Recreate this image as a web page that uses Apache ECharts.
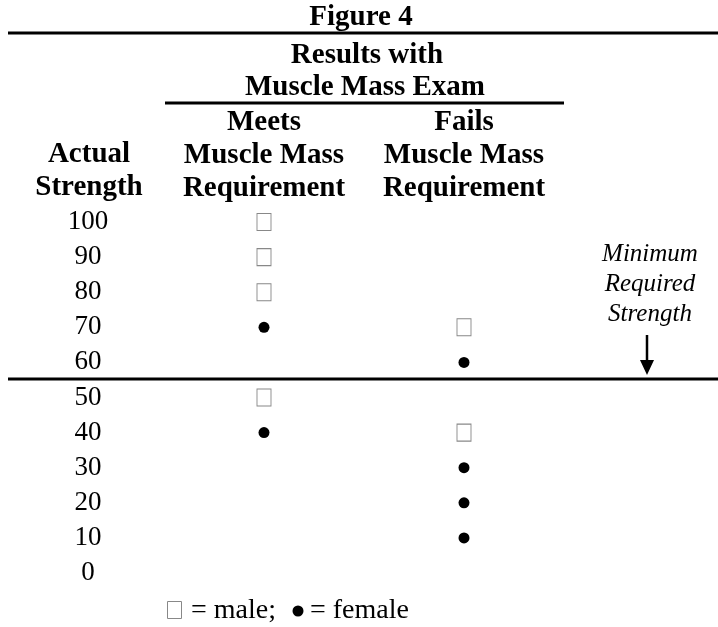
<!DOCTYPE html>
<html>
<head>
<meta charset="utf-8">
<style>
  html, body { margin: 0; padding: 0; background: #fff; }
  #chart { width: 718px; height: 627px; }
</style>
<script src="https://cdn.jsdelivr.net/npm/echarts@6/dist/echarts.min.js"></script>
</head>
<body>
<div id="chart"></div>
<script>
// ---- data ----
const categories = ['Meets\nMuscle Mass\nRequirement', 'Fails\nMuscle Mass\nRequirement'];
const strengthTicks = [0, 10, 20, 30, 40, 50, 60, 70, 80, 90, 100];
const maleMeets = [100, 90, 80, 50];
const maleFails = [70, 40];
const femaleMeets = [70, 40];
const femaleFails = [60, 30, 20, 10];

const serif = '"Liberation Serif", "Times New Roman", serif';

const maleData = maleMeets.map(v => [categories[0], v]).concat(maleFails.map(v => [categories[1], v]));
const femaleData = femaleMeets.map(v => [categories[0], v]).concat(femaleFails.map(v => [categories[1], v]));

const chart = echarts.init(document.getElementById('chart'), null, { renderer: 'canvas' });

function txt(text, x, y, font, align, sy) {
  return {
    type: 'text', x: x, y: y, silent: true, scaleY: sy || 1,
    style: { text: text, font: font, align: align || 'center', verticalAlign: 'middle', fill: '#000' }
  };
}
function hline(x1, x2, y, w) {
  return { type: 'line', silent: true, shape: { x1: x1, y1: y, x2: x2, y2: y }, style: { stroke: '#000', lineWidth: w } };
}

const boldFont = 'bold 29px ' + serif;
const regFont = '28px ' + serif;
const itFont = 'italic 25px ' + serif;

chart.setOption({
  animation: false,
  backgroundColor: '#fff',
  grid: { left: 164, right: 154, top: 222, bottom: 54 },
  xAxis: {
    type: 'category',
    data: categories,
    position: 'top',
    boundaryGap: true,
    axisLine: { show: false },
    axisTick: { show: false },
    splitLine: { show: false },
    axisLabel: {
      interval: 0,
      margin: 17,
      color: '#000',
      fontFamily: serif,
      fontWeight: 'bold',
      fontSize: 29,
      lineHeight: 33
    }
  },
  yAxis: {
    type: 'value',
    min: 0,
    max: 100,
    interval: 10,
    axisLine: { show: false },
    axisTick: { show: false },
    splitLine: { show: false },
    axisLabel: {
      align: 'center',
      margin: 76,
      color: '#000',
      fontFamily: serif,
      fontSize: 27,
      formatter: v => strengthTicks.indexOf(v) >= 0 ? String(v) : ''
    }
  },
  series: [
    {
      name: 'male',
      type: 'scatter',
      data: maleData,
      symbol: 'rect',
      symbolSize: [14, 17],
      itemStyle: { color: '#fff', borderColor: '#888', borderWidth: 1, opacity: 1 }
    },
    {
      name: 'female',
      type: 'scatter',
      data: femaleData,
      symbol: 'circle',
      symbolSize: 11,
      itemStyle: { color: '#000', opacity: 1 }
    }
  ],
  graphic: [
    txt('Figure 4', 361, 18, boldFont),
    hline(8, 718, 33, 3),
    txt('Results with', 367, 56, boldFont),
    txt('Muscle Mass Exam', 365, 88, boldFont),
    hline(165, 564, 103, 3),
    txt('Actual', 89, 155, boldFont),
    txt('Strength', 89, 188, boldFont),
    txt('Minimum', 650, 254, itFont),
    txt('Required', 650, 284, itFont),
    txt('Strength', 650, 314, itFont),
    { type: 'line', silent: true, shape: { x1: 647, y1: 335, x2: 647, y2: 362 }, style: { stroke: '#000', lineWidth: 2.5 } },
    { type: 'polygon', silent: true, shape: { points: [[640, 360], [654, 360], [647, 375]] }, style: { fill: '#000' } },
    hline(8, 718, 379, 3),
    { type: 'rect', silent: true, shape: { x: 167.5, y: 601.5, width: 14, height: 17 }, style: { fill: '#fff', stroke: '#888', lineWidth: 1 } },
    txt('= male;', 191, 611, regFont, 'left'),
    { type: 'circle', silent: true, shape: { cx: 298, cy: 611, r: 5.5 }, style: { fill: '#000' } },
    txt('= female', 310, 611, regFont, 'left')
  ]
});
</script>
</body>
</html>
